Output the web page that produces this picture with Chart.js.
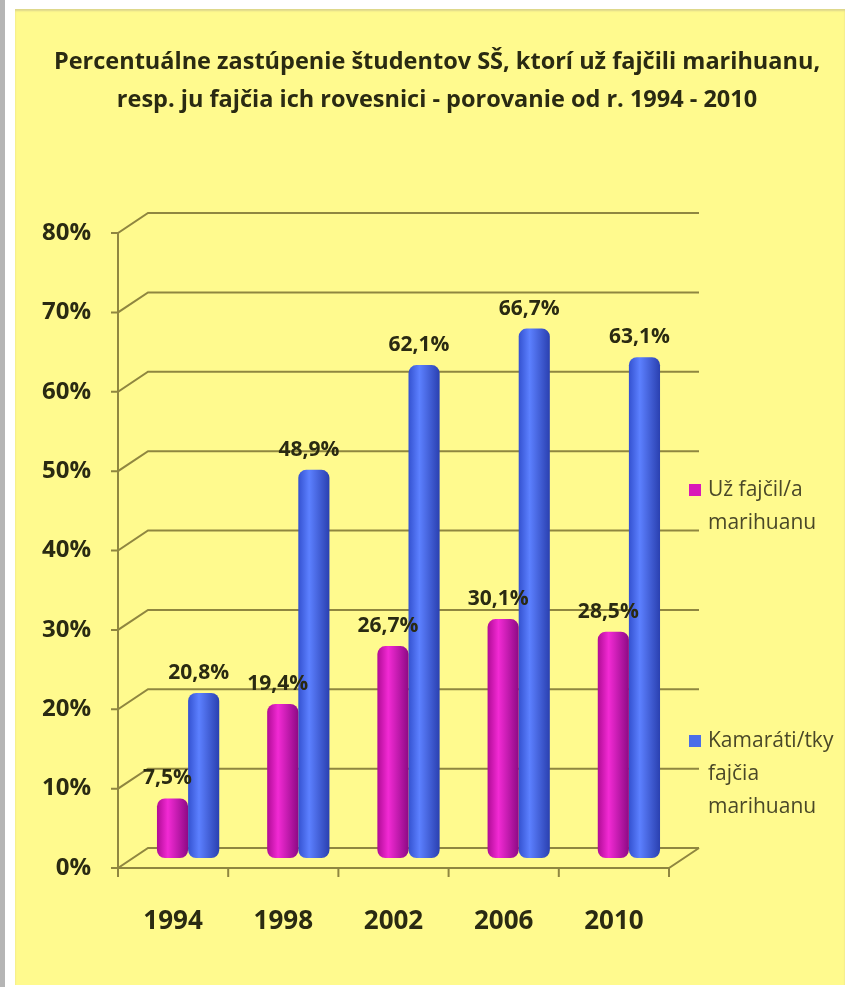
<!DOCTYPE html>
<html>
<head>
<meta charset="utf-8">
<script src="https://cdn.jsdelivr.net/npm/chart.js@4.4.1/dist/chart.umd.min.js"></script>
<style>
  html, body { margin: 0; padding: 0; background: #fff; overflow: hidden; }
  body { width: 845px; height: 987px; position: relative; }
  #okraj { position: absolute; left: 0; top: 0; width: 5px; height: 987px; background: #b5b5b5; }
  #panel { position: absolute; left: 15px; top: 9px; width: 830px; height: 976px; background: #fffa8e;
           box-shadow: inset 0 2px 2px #ddd68c; }
  #obal { position: absolute; left: 0; top: 0; width: 874px; height: 987px; }
</style>
</head>
<body>
<div id="okraj"></div>
<div id="panel"></div>
<div id="obal"><canvas id="graf"></canvas></div>
<script>
var roky = ["1994", "1998", "2002", "2006", "2010"];
var fajcil = [7.5, 19.4, 26.7, 30.1, 28.5];
var kamarati = [20.8, 48.9, 62.1, 66.7, 63.1];
var nazvy = ["Už fajčil/a marihuanu", "Kamaráti/tky fajčia marihuanu"];
var legendaRiadky = [["Už fajčil/a", "marihuanu"], ["Kamaráti/tky", "fajčia", "marihuanu"]];
var titulok = [
  "Percentuálne zastúpenie študentov SŠ, ktorí už fajčili marihuanu,",
  "resp. ju fajčia ich rovesnici - porovanie od r. 1994 - 2010"
];

var PISMO = "'Open Sans', sans-serif";
var TEXT = "#2a2a12";
var CIARA = "#8f8640";
var DX = 15, DY = 10; // posun zadnej a prednej steny (3D efekt)
var SKUPINA = 0.565;

// valcovy prechod farieb pre stlpec
function valec(farby) {
  return function (context) {
    var chart = context.chart;
    if (!chart.chartArea || context.type !== "data") return farby[1];
    var xs = chart.scales.x;
    var stred = xs.getPixelForValue(context.dataIndex);
    var sirka = (xs.width / roky.length) * SKUPINA / 2;
    var x0 = context.datasetIndex === 0 ? stred - sirka : stred;
    var g = chart.ctx.createLinearGradient(x0, 0, x0 + sirka, 0);
    g.addColorStop(0, farby[0]);
    g.addColorStop(0.35, farby[1]);
    g.addColorStop(1, farby[2]);
    return g;
  };
}

var mriezka = {
  id: "mriezka",
  beforeDatasetsDraw: function (chart) {
    var ctx = chart.ctx, a = chart.chartArea, ys = chart.scales.y;
    var y0 = ys.getPixelForValue(0);
    ctx.save();
    ctx.strokeStyle = CIARA;
    ctx.lineWidth = 2;
    ys.ticks.forEach(function (t) {
      var y = ys.getPixelForValue(t.value);
      ctx.beginPath();
      ctx.moveTo(a.left - DX - 7, y + DY);
      ctx.lineTo(a.left - DX, y + DY);
      ctx.lineTo(a.left + DX, y - DY);
      ctx.lineTo(a.right + DX, y - DY);
      ctx.stroke();
    });
    // predna os y
    ctx.beginPath();
    ctx.moveTo(a.left - DX, ys.getPixelForValue(ys.max) + DY);
    ctx.lineTo(a.left - DX, y0 + DY);
    ctx.stroke();
    // podlaha
    ctx.beginPath();
    ctx.moveTo(a.left - DX, y0 + DY);
    ctx.lineTo(a.right - DX, y0 + DY);
    ctx.lineTo(a.right + DX, y0 - DY);
    ctx.stroke();
    // ciarky medzi kategoriami
    var krok = a.width / roky.length;
    for (var i = 0; i <= roky.length; i++) {
      var x = a.left - DX + i * krok;
      ctx.beginPath();
      ctx.moveTo(x, y0 + DY);
      ctx.lineTo(x, y0 + DY + 9);
      ctx.stroke();
    }
    ctx.restore();
  }
};

var popisky = {
  id: "popisky",
  afterDatasetsDraw: function (chart) {
    var ctx = chart.ctx;
    ctx.save();
    ctx.font = "bold 21px " + PISMO;
    ctx.fillStyle = TEXT;
    ctx.textAlign = "center";
    ctx.textBaseline = "middle";
    chart.data.datasets.forEach(function (ds, i) {
      chart.getDatasetMeta(i).data.forEach(function (bar, j) {
        ctx.fillText(String(ds.data[j]).replace(".", ",") + "%", bar.x - 5, bar.y - 20);
      });
    });
    ctx.restore();
  }
};

var legenda = {
  id: "legenda",
  afterDraw: function (chart) {
    var ctx = chart.ctx;
    var pozicie = [490, 741];
    ctx.save();
    ctx.font = "21px " + PISMO;
    ctx.textBaseline = "middle";
    chart.data.datasets.forEach(function (ds, i) {
      var y = pozicie[i];
      ctx.fillStyle = ds.farba;
      ctx.fillRect(689, y - 6, 12, 12);
      ctx.fillStyle = "#4a4828";
      legendaRiadky[i].forEach(function (riadok, k) {
        ctx.fillText(riadok, 708, y + k * 33);
      });
    });
    ctx.restore();
  }
};

var ctx = document.getElementById("graf").getContext("2d");
var graf = new Chart(ctx, {
  type: "bar",
  data: {
    labels: roky,
    datasets: [
      {
        label: nazvy[0],
        data: fajcil,
        farba: "#d81ab8",
        backgroundColor: valec(["#b00c95", "#f22ad4", "#8e0a86"]),
        borderRadius: 8,
        borderSkipped: false,
        categoryPercentage: SKUPINA,
        barPercentage: 1
      },
      {
        label: nazvy[1],
        data: kamarati,
        farba: "#4a6ee8",
        backgroundColor: valec(["#3452d0", "#5c80ff", "#2a40b0"]),
        borderRadius: 8,
        borderSkipped: false,
        categoryPercentage: SKUPINA,
        barPercentage: 1
      }
    ]
  },
  options: {
    responsive: true,
    maintainAspectRatio: false,
    animation: false,
    events: [],
    layout: { padding: 0 },
    plugins: {
      legend: { display: false },
      tooltip: { enabled: false },
      title: {
        display: true,
        text: titulok,
        color: TEXT,
        font: { family: PISMO, size: 23.5, weight: "bold", lineHeight: 38 / 23.5 },
        padding: { top: 43, bottom: 104 }
      }
    },
    scales: {
      x: {
        grid: { display: false, drawTicks: false },
        border: { display: false },
        ticks: { color: TEXT, font: { family: PISMO, size: 26, weight: "bold" }, labelOffset: -DX, padding: 48 },
        afterFit: function (s) { s.height = 129; }
      },
      y: {
        min: 0,
        max: 80,
        grid: { display: false, drawTicks: false },
        border: { display: false },
        ticks: {
          stepSize: 10,
          color: TEXT,
          font: { family: PISMO, size: 24, weight: "bold" },
          padding: 42,
          labelOffset: DY,
          callback: function (v) { return v + "%"; }
        },
        afterFit: function (s) { s.width = 133; }
      },
      y2: {
        position: "right",
        grid: { display: false },
        border: { display: false },
        ticks: { display: false },
        afterFit: function (s) { s.width = 190; }
      }
    }
  },
  plugins: [mriezka, popisky, legenda]
});
</script>
</body>
</html>
